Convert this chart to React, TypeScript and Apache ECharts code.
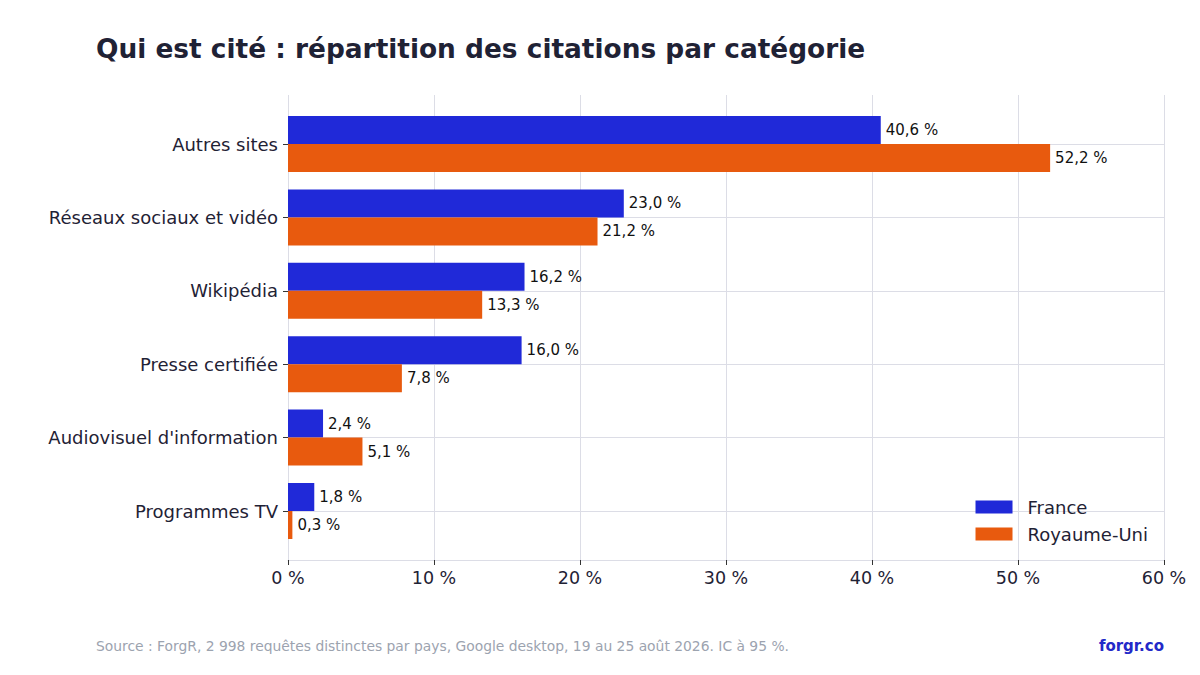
import React, { useEffect, useRef } from 'react';
import * as echarts from 'echarts';

const categories = [
  'Autres sites',
  'Réseaux sociaux et vidéo',
  'Wikipédia',
  'Presse certifiée',
  "Audiovisuel d'information",
  'Programmes TV',
];
const franceValues = [40.6, 23.0, 16.2, 16.0, 2.4, 1.8];
const ukValues = [52.2, 21.2, 13.3, 7.8, 5.1, 0.3];
const seriesNames = ['France', 'Royaume-Uni'];

const BLUE = '#2029d8';
const ORANGE = '#e85a0e';
const INK = '#1f2235';
const GRID = '#dcdde6';
const FONT = 'DejaVu Sans';

const fmt = (v: number) => `${v.toFixed(1).replace('.', ',')} %`;

export default function App() {
  const chartRef = useRef<HTMLDivElement>(null);

  useEffect(() => {
    if (!chartRef.current) return;
    document.body.style.margin = '0';
    const chart = echarts.init(chartRef.current, null, { renderer: 'svg' });

    const barLabel = {
      show: true,
      position: 'right',
      distance: 5,
      color: '#111',
      fontSize: 15,
      fontFamily: FONT,
      formatter: (p: any) => fmt(p.value),
    };

    const option: echarts.EChartsOption = {
      animation: false,
      backgroundColor: '#ffffff',
      textStyle: { fontFamily: FONT },
      title: {
        text: 'Qui est cité : répartition des citations par catégorie',
        left: 91,
        top: 30,
        textStyle: { fontSize: 26.4, fontWeight: 'bold', color: INK, fontFamily: FONT },
      },
      legend: {
        orient: 'vertical',
        right: 47,
        top: 493,
        itemWidth: 37,
        itemHeight: 13,
        itemGap: 9,
        icon: 'rect',
        data: seriesNames,
        textStyle: { fontSize: 18, color: INK, fontFamily: FONT, padding: [0, 0, 0, 10] },
      },
      grid: [
        { left: 288, right: 36, top: 144, bottom: 164 },
        { left: 288, right: 36, top: 95, bottom: 115 },
      ],
      xAxis: [
        { type: 'value', gridIndex: 0, min: 0, max: 60, show: false },
        {
          type: 'value',
          gridIndex: 1,
          min: 0,
          max: 60,
          interval: 10,
          axisLine: { show: true, lineStyle: { color: GRID, width: 1 } },
          axisTick: { show: true, length: 5, lineStyle: { color: '#333' } },
          splitLine: { show: true, lineStyle: { color: GRID, width: 1 } },
          axisLabel: {
            fontSize: 17.5,
            color: INK,
            fontFamily: FONT,
            margin: 9,
            formatter: (v: number) => `${v} %`,
          },
        },
      ],
      yAxis: [
        {
          type: 'category',
          gridIndex: 0,
          data: categories,
          inverse: true,
          boundaryGap: false,
          axisLine: { show: false },
          axisTick: { show: true, length: 5, lineStyle: { color: '#333' } },
          splitLine: { show: true, lineStyle: { color: GRID, width: 1 } },
          axisLabel: { fontSize: 18, color: INK, fontFamily: FONT, margin: 10, padding: [3, 0, 0, 0] },
        },
        { type: 'value', gridIndex: 1, show: false },
      ],
      series: [
        {
          name: seriesNames[0],
          type: 'bar',
          xAxisIndex: 0,
          yAxisIndex: 0,
          data: franceValues,
          barWidth: 28,
          barGap: '0%',
          clip: false,
          itemStyle: { color: BLUE },
          label: barLabel as any,
        },
        {
          name: seriesNames[1],
          type: 'bar',
          xAxisIndex: 0,
          yAxisIndex: 0,
          data: ukValues,
          barWidth: 28,
          barGap: '0%',
          clip: false,
          itemStyle: { color: ORANGE },
          label: barLabel as any,
        },
      ],
      graphic: [
        {
          type: 'text',
          left: 96,
          top: 639,
          style: {
            text: 'Source : ForgR, 2 998 requêtes distinctes par pays, Google desktop, 19 au 25 août 2026. IC à 95 %.',
            fill: '#9ca3af',
            fontSize: 13.86,
            fontFamily: FONT,
          },
        },
        {
          type: 'text',
          right: 36,
          top: 638,
          style: {
            text: 'forgr.co',
            fill: '#2329c8',
            fontSize: 15,
            fontWeight: 'bold',
            fontFamily: FONT,
          },
        },
      ],
    };

    chart.setOption(option);
    return () => {
      chart.dispose();
    };
  }, []);

  return <div ref={chartRef} style={{ width: 1200, height: 675 }} />;
}
